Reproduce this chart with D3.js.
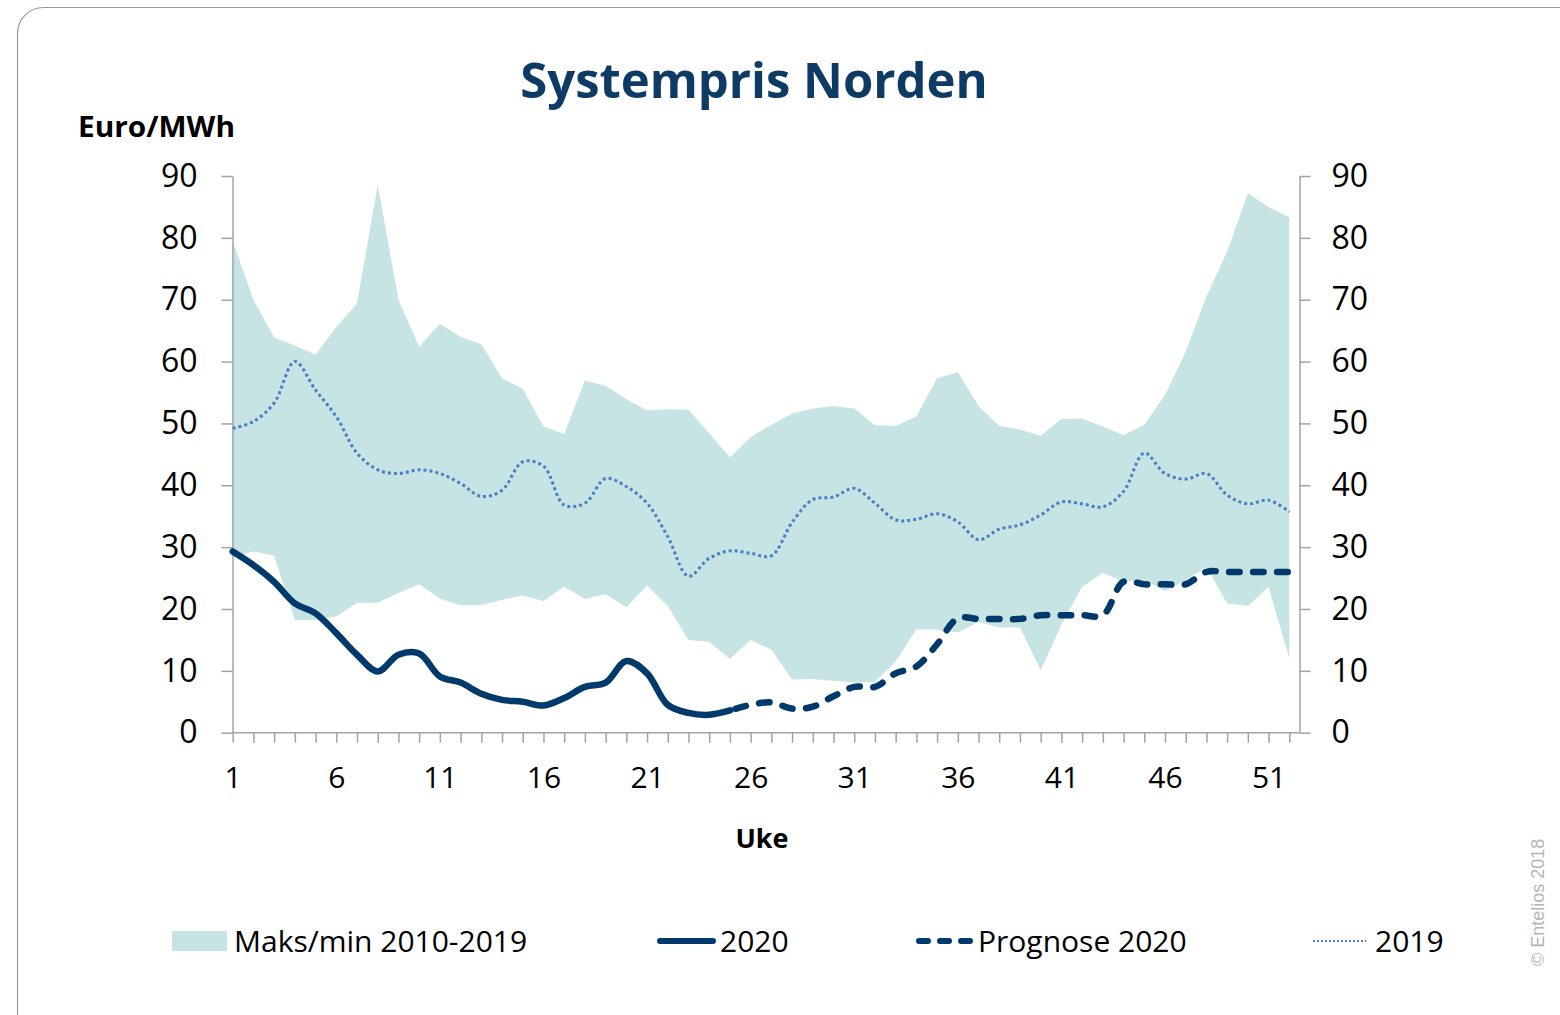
<!DOCTYPE html>
<html><head><meta charset="utf-8">
<script src="https://cdn.jsdelivr.net/npm/d3@7"></script>
<style>
html,body{margin:0;padding:0;background:#fff;}
svg{display:block;}
</style></head>
<body>
<svg id="chart" width="1560" height="1015"></svg>
<script>
const weeks = [1,2,3,4,5,6,7,8,9,10,11,12,13,14,15,16,17,18,19,20,21,22,23,24,25,26,27,28,29,30,31,32,33,34,35,36,37,38,39,40,41,42,43,44,45,46,47,48,49,50,51,52];
const maxBand = [79.5,70.0,63.9,62.6,61.1,65.6,69.4,88.6,70.0,62.4,66.1,64.0,62.8,57.3,55.6,49.5,48.3,56.9,56.1,53.9,52.1,52.3,52.2,48.4,44.5,47.8,49.8,51.6,52.4,52.8,52.4,49.7,49.6,51.1,57.3,58.3,52.8,49.6,49.0,48.0,50.7,50.8,49.5,48.1,49.8,54.6,61.6,70.5,77.8,87.2,85.0,83.3];
const minBand = [28.5,29.3,28.6,18.2,18.2,18.8,21.0,21.0,22.6,24.0,21.7,20.6,20.6,21.5,22.2,21.3,23.6,21.6,22.4,20.3,23.8,20.5,15.0,14.7,11.9,15.0,13.4,8.6,8.7,8.4,8.1,8.2,11.5,16.7,16.7,16.2,17.9,17.0,17.0,10.1,17.5,23.6,25.8,24.4,24.7,22.9,24.7,26.8,20.9,20.5,23.6,12.0];
const y2019 = [49.2,50.3,53.3,60.0,55.4,51.1,45.2,42.5,41.9,42.5,41.9,40.3,38.2,39.2,43.8,43.1,36.8,37.1,41.1,39.8,37.1,31.7,25.3,28.2,29.4,29.0,28.6,34.0,37.7,38.1,39.5,37.1,34.4,34.5,35.4,34.1,31.2,32.9,33.6,35.2,37.3,37.0,36.5,39.0,45.2,41.9,41.0,41.9,38.4,37.0,37.6,35.7];
const weeks2020 = [1,2,3,4,5,6,7,8,9,10,11,12,13,14,15,16,17,18,19,20,21,22,23,24,25];
const y2020 = [29.3,27.1,24.4,20.9,19.3,16.1,12.6,9.9,12.6,12.8,9.1,8.1,6.3,5.3,5.0,4.4,5.6,7.4,8.1,11.6,9.6,4.5,3.2,2.9,3.6];
const weeksProg = [25,26,27,28,29,30,31,32,33,34,35,36,37,38,39,40,41,42,43,44,45,46,47,48,49,50,51,52];
const yProg = [3.6,4.5,4.9,3.9,4.2,5.9,7.4,7.4,9.6,10.7,14.3,18.5,18.4,18.4,18.4,19.0,19.0,19.0,19.0,24.4,24.0,24.0,24.0,26.0,26.0,26.0,26.0,26.0];
const yTicks = [0,10,20,30,40,50,60,70,80,90];
const xTickLabels = [1,6,11,16,21,26,31,36,41,46,51];
const legendLabels = ["Maks/min 2010-2019","2020","Prognose 2020","2019"];

const BAND = "#c5e4e3", NAVY = "#00396b", DOT = "#4a7ec6", AXIS = "#a3a3a3";
const FONT = "'Open Sans', 'Noto Sans', sans-serif";

const svg = d3.select("#chart");

// frame
svg.append("rect").attr("x",17.5).attr("y",7.5).attr("width",1600).attr("height",1100)
  .attr("rx",26).attr("fill","none").attr("stroke","#9a9a9a").attr("stroke-width",1.2);

const x = d3.scaleLinear().domain([1,52]).range([232.7,1289.3]);
const y = d3.scaleLinear().domain([0,90]).range([732.7,176]);
const xRightAxis = 1299.5;

// band
const area = d3.area().x((d,i)=>x(weeks[i])).y0((d,i)=>y(minBand[i])).y1((d,i)=>y(maxBand[i]));
svg.append("path").datum(weeks).attr("d",area).attr("fill",BAND);

// axes
const gL = svg.append("g").attr("transform","translate(232.5,0)")
  .call(d3.axisLeft(y).tickValues(yTicks).tickSize(11).tickSizeOuter(0).tickPadding(24));
const gR = svg.append("g").attr("transform",`translate(${xRightAxis},0)`)
  .call(d3.axisRight(y).tickValues(yTicks).tickSize(11).tickSizeOuter(0).tickPadding(21));
[gL,gR].forEach(g=>{
  g.selectAll("path.domain").attr("stroke",AXIS).attr("stroke-width",1.5);
  g.selectAll(".tick line").attr("stroke",AXIS).attr("stroke-width",1.5);
  g.selectAll(".tick text").attr("font-family",FONT).attr("font-size",32).attr("fill","#000");
});
const gB = svg.append("g").attr("transform",`translate(0,${y(0)})`)
  .call(d3.axisBottom(x).tickValues(weeks).tickSize(10).tickSizeOuter(0)
    .tickFormat(d=>xTickLabels.includes(d)?String(d):""));
gB.select("path.domain").remove();
gB.selectAll(".tick line").attr("stroke",AXIS).attr("stroke-width",1.5);
gB.selectAll(".tick text").attr("font-family",FONT).attr("font-size",30).attr("fill","#000")
  .attr("y",55).attr("dy",0);
gB.append("line").attr("x1",x(1)-0.5).attr("x2",xRightAxis).attr("y1",0).attr("y2",0)
  .attr("stroke",AXIS).attr("stroke-width",1.5);

// lines
const curve = d3.curveCatmullRom.alpha(0.5);
const line19 = d3.line().x((d,i)=>x(weeks[i])).y(d=>y(d)).curve(curve);
svg.append("path").datum(y2019).attr("d",line19).attr("fill","none")
  .attr("stroke",DOT).attr("stroke-width",3).attr("stroke-dasharray","3 3");

const line20 = d3.line().x((d,i)=>x(weeks2020[i])).y(d=>y(d)).curve(curve);
svg.append("path").datum(y2020).attr("d",line20).attr("fill","none")
  .attr("stroke",NAVY).attr("stroke-width",6.5).attr("stroke-linecap","round").attr("stroke-linejoin","round");

const lineP = d3.line().x((d,i)=>x(weeksProg[i])).y(d=>y(d)).curve(curve);
svg.append("path").datum(yProg).attr("d",lineP).attr("fill","none")
  .attr("stroke",NAVY).attr("stroke-width",6.5).attr("stroke-linecap","round")
  .attr("stroke-dasharray","10.5 13.5").attr("stroke-dashoffset",-6);

// title & axis titles
svg.append("text").attr("x",754).attr("y",98).attr("text-anchor","middle")
  .attr("font-family",FONT).attr("font-weight",700).attr("font-size",49).attr("fill","#0e3a66")
  .text("Systempris Norden");
svg.append("text").attr("x",78).attr("y",137)
  .attr("font-family",FONT).attr("font-weight",700).attr("font-size",28)
  .attr("textLength",157).attr("lengthAdjust","spacingAndGlyphs").attr("fill","#000")
  .text("Euro/MWh");
svg.append("text").attr("x",762).attr("y",848).attr("text-anchor","middle")
  .attr("font-family",FONT).attr("font-weight",700).attr("font-size",27).attr("fill","#000")
  .text("Uke");

// legend
const ly = 941;
const lg = svg.append("g");
lg.append("rect").attr("x",172).attr("y",931).attr("width",55).attr("height",20).attr("fill",BAND);
lg.append("line").attr("x1",660).attr("x2",713).attr("y1",ly).attr("y2",ly)
  .attr("stroke",NAVY).attr("stroke-width",6).attr("stroke-linecap","round");
lg.append("line").attr("x1",919).attr("x2",973).attr("y1",ly).attr("y2",ly)
  .attr("stroke",NAVY).attr("stroke-width",6).attr("stroke-linecap","round")
  .attr("stroke-dasharray","9 12");
lg.append("line").attr("x1",1313).attr("x2",1366).attr("y1",ly).attr("y2",ly)
  .attr("stroke",DOT).attr("stroke-width",2).attr("stroke-dasharray","2 2");
const lx = [234,720,978,1375];
legendLabels.forEach((t,i)=>{
  lg.append("text").attr("x",lx[i]).attr("y",952).attr("font-family",FONT)
    .attr("font-size",30).attr("fill","#000").text(t);
});

// watermark
svg.append("text").attr("transform","translate(1544,966) rotate(-90)")
  .attr("font-family","'Liberation Sans', Arial, sans-serif").attr("font-size",18)
  .attr("fill","#b5b5b5").text("© Entelios 2018");
</script>
</body></html>
